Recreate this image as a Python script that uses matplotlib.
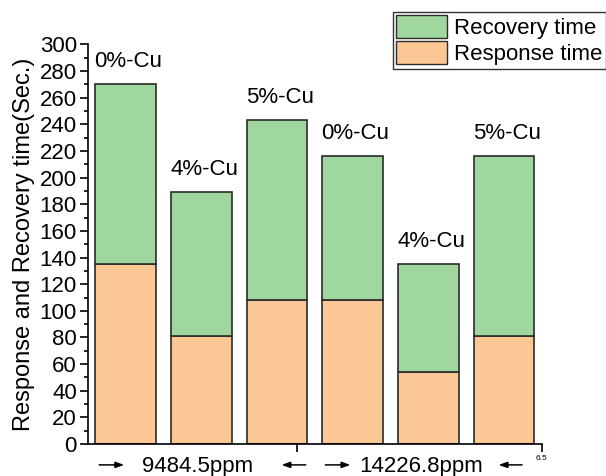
import matplotlib.pyplot as plt
from matplotlib.ticker import MultipleLocator
from matplotlib.patches import Patch

plt.rcParams['font.family'] = ['Liberation Sans', 'DejaVu Sans']

labels = ['0%-Cu', '4%-Cu', '5%-Cu', '0%-Cu', '4%-Cu', '5%-Cu']
response = [135, 81, 108, 108, 54, 81]
recovery = [135, 108, 135, 108, 81, 135]

green = '#a0d79e'
orange = '#fbc895'
edge = '#2b2b2b'

fig = plt.figure(figsize=(6.06, 4.76), dpi=100)
ax = fig.add_axes([0.145, 0.067, 0.749, 0.84])

x = list(range(1, len(labels) + 1))
ax.bar(x, response, width=0.8, color=orange, edgecolor=edge, linewidth=1.2)
ax.bar(x, recovery, width=0.8, bottom=response, color=green, edgecolor=edge, linewidth=1.2)

for xi, lab, r1, r2 in zip(x, labels, response, recovery):
    ax.annotate(lab, (xi, r1 + r2), xytext=(2, 9), textcoords='offset points',
                ha='center', va='bottom', fontsize=16)

ax.set_xlim(0.5, 6.5)
ax.set_ylim(0, 300)
ax.yaxis.set_major_locator(MultipleLocator(20))
ax.yaxis.set_minor_locator(MultipleLocator(10))
ax.tick_params(axis='y', which='major', length=6, width=1.2, labelsize=16, pad=2)
ax.tick_params(axis='y', which='minor', length=3, width=1.2)
ax.set_xticks([3.26, 6.5])
ax.set_xticklabels(['', '6.5'], fontsize=6)
ax.tick_params(axis='x', length=6, width=1.2, pad=2)
for s in ['top', 'right']:
    ax.spines[s].set_visible(False)
for s in ['left', 'bottom']:
    ax.spines[s].set_linewidth(1.2)

ax.set_ylabel('Response and Recovery time(Sec.)', fontsize=17, labelpad=3)

# group labels under the axis, with arrows marking each group
trans = ax.get_xaxis_transform()
groups = [(1.95, '9484.5ppm'), (4.90, '14226.8ppm')]
for gx, txt in groups:
    ax.text(gx, -0.055, txt, transform=trans, ha='center', va='center', fontsize=16)

arrows = [(0.65, 0.98), (3.38, 3.06), (3.64, 3.97), (6.24, 5.93)]
for x0, x1 in arrows:
    ax.annotate('', xy=(x1, -0.052), xytext=(x0, -0.052), xycoords=trans,
                textcoords=trans, annotation_clip=False,
                arrowprops=dict(arrowstyle='-|>,head_length=0.5,head_width=0.18',
                                color='black', lw=1.1, shrinkA=0, shrinkB=0))

handles = [Patch(facecolor=green, edgecolor=edge, label='Recovery time'),
           Patch(facecolor=orange, edgecolor=edge, label='Response time')]
leg = fig.legend(handles=handles, loc='upper left', bbox_to_anchor=(0.648, 0.975),
                 fontsize=16, frameon=True, fancybox=False, edgecolor='black',
                 handlelength=2.3, handleheight=1.2, labelspacing=0.1,
                 borderpad=0.15, handletextpad=0.3, borderaxespad=0)
leg.get_frame().set_linewidth(1.0)

fig.savefig('out.png', dpi=100)
